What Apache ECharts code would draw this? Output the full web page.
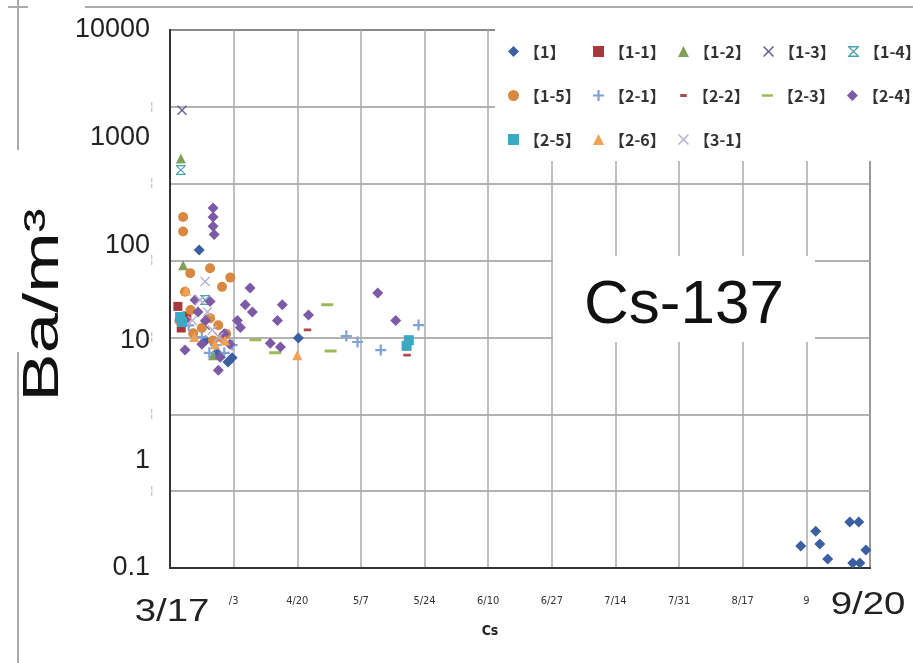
<!DOCTYPE html>
<html><head><meta charset="utf-8">
<script src="https://cdn.jsdelivr.net/npm/echarts@6/dist/echarts.min.js"></script>
<style>html,body{margin:0;padding:0;background:#fff}#c{width:913px;height:663px}</style>
</head><body><div id="c"></div>
<script>
// x = days after 3/17, y = Bq/m3
const xTickLabels = ['', '/3', '4/20', '5/7', '5/24', '6/10', '6/27', '7/14', '7/31', '8/17', '9', ''];
const yTickLabels = ['0.1', '1', '10', '100', '1000', '10000'];
const seriesNames = ['【1】','【1-1】','【1-2】','【1-3】','【1-4】','【1-5】','【2-1】','【2-2】','【2-3】','【2-4】','【2-5】','【2-6】','【3-1】'];

const s1  = [[7.8,90],[16.6,9.0],[15.5,8.2],[34.3,13.7],[12.5,10],[9.5,13],[168.5,0.16],[172.5,0.22],[173.6,0.167],[175.7,0.121],[181.6,0.268],[184.0,0.268],[182.4,0.111],[184.3,0.111],[185.9,0.147]];
const s11 = [[2.1,27],[4.5,22],[3.0,17]];
const s12 = [[2.9,640],[3.5,65],[11.5,9.5]];
const s13 = [[3.2,1800],[9.4,18]];
const s14 = [[2.9,500],[9.4,31]];
const s15 = [[3.5,183],[3.5,134],[5.4,55],[10.7,61],[16.1,50],[13.9,41],[6.2,15.2],[10.7,21],[12.9,18],[13.9,13.7],[4.0,37],[2.5,20],[5.5,25],[8.5,17],[11.5,13],[15.0,15]];
const s21 = [[47.1,14.3],[50.1,12.6],[56.3,10.6],[66.4,18.1],[12.1,11.8],[16.6,11.8],[8.5,14],[5.0,18],[10.5,10],[14.5,10]];
const s22 = [[63.0,9.5],[36.4,16.3]];
const s23 = [[42.0,28],[42.9,10.4],[22.8,13.2],[28.1,10]];
const s24 = [[11.5,222],[11.5,183],[11.5,150],[11.8,126],[21.4,40],[20.1,28],[22.0,24],[6.7,31],[10.7,30],[4.0,10.6],[13.4,9.1],[12.9,6.9],[30.0,28],[28.7,20],[18.0,20],[18.8,17.2],[37.0,22.5],[26.8,12.3],[29.5,11.3],[55.5,36],[60.3,20],[7.5,24],[9.5,20],[14.5,15],[16.0,12],[8.5,12],[3.8,20]];
const s25 = [[2.7,21.5],[3.2,19.3],[63.8,13.1],[63.2,11.6]];
const s26 = [[34.0,9.5],[4.3,38],[14.7,13],[6.5,14],[12.0,12]];
const s31 = [[9.4,46],[8.0,31],[11.3,16.3],[6.0,20],[10.0,24],[13.0,14]];

const seriesData = [s1,s11,s12,s13,s14,s15,s21,s22,s23,s24,s25,s26,s31];
const colors = ['#3b5fa0','#a8383b','#82a05a','#6a5f8e','#4a9fae','#d9893f','#7fa2d4','#b04a4a','#9bbb59','#7d5aa6','#3ba9c4','#f2a053','#b8b0d2'];

const PLUS = 'path://M4,0H6V4H10V6H6V10H4V6H0V4H4Z';
const CROSS = 'path://M1,0L5,4L9,0L10,1L6,5L10,9L9,10L5,6L1,10L0,9L4,5L0,1Z';
const STAR = 'path://M0,0H10V1.3H0ZM0,8.7H10V10H0ZM1.5,1L5,4.2L8.5,1L9.3,1.8L5.8,5L9.3,8.2L8.5,9L5,5.8L1.5,9L0.7,8.2L4.2,5L0.7,1.8Z';
const SDASH = 'path://M0,0L0.01,0M2,3.6H8V6.4H2ZM0,10L0.01,10';
const LDASH = 'path://M0,0L0.01,0M0,3.8H10V6.2H0ZM0,10L0.01,10';
const symbols = ['diamond','rect','triangle',CROSS,STAR,'circle',PLUS,SDASH,LDASH,'diamond','rect','triangle',CROSS];
const sizes = [11,9,10,10,10,10,11,10,12,11,10,10,10];

const chart = echarts.init(document.getElementById('c'));
const series = seriesNames.map((n,i)=>({
  name:n, type:'scatter', data:seriesData[i], xAxisIndex:0, yAxisIndex:0,
  symbol:symbols[i], symbolSize:sizes[i], itemStyle:{color:colors[i], opacity:1}, z:3
}));

const condensed = "'DejaVu Sans Condensed', 'Liberation Sans', sans-serif";

chart.setOption({
  backgroundColor:'#fff',
  animation:false,
  grid:{left:170, top:30, right:43, bottom:95, show:true, borderColor:'#333', borderWidth:1.5, backgroundColor:'transparent'},
  xAxis:{type:'value', min:0, max:187, interval:17,
    name:'Cs', nameLocation:'middle', nameGap:56,
    nameTextStyle:{fontSize:14, fontWeight:'bold', color:'#222', fontFamily:condensed, padding:[0,60,0,0]},
    axisLine:{lineStyle:{color:'#333', width:2}}, axisTick:{show:false},
    axisLabel:{margin:28, fontSize:11, color:'#333', fontFamily:condensed, formatter:(v)=>xTickLabels[Math.round(v/17)]||''},
    splitLine:{show:true, lineStyle:{color:'#aaa', width:1.5}}},
  yAxis:[
    {type:'log', logBase:10, min:0.1, max:10000, interval:1,
      axisLine:{show:true, lineStyle:{color:'#333', width:2}}, axisTick:{show:false},
      splitLine:{show:false},
      axisLabel:{margin:20, fontSize:27, color:'#222', fontFamily:'Liberation Sans',
        formatter:(v,i)=> i===2 ? '{up|'+yTickLabels[i]+'}' : yTickLabels[i],
        rich:{up:{fontSize:27, color:'#222', fontFamily:'Liberation Sans', padding:[0,0,24,0]}}}},
    {type:'value', min:0, max:7, interval:1, position:'left',
      axisLine:{show:false}, axisTick:{show:false},
      axisLabel:{margin:17, fontSize:10, color:'#aaa', formatter:(v)=>(v>0&&v<7)?'¦':''},
      splitLine:{show:true, lineStyle:{color:'#999', width:1.5}}}
  ],
  legend:{left:503, top:28, width:425, orient:'horizontal', itemWidth:11, itemHeight:11, itemGap:7, z:10,
    data:seriesNames,
    textStyle:{fontFamily:'Noto Sans CJK JP', fontSize:16, fontWeight:'bold', color:'#333', width:62, lineHeight:37}},
  graphic:[
    {type:'rect', z:5, shape:{x:495, y:20, width:418, height:141}, style:{fill:'#fff'}},
    {type:'rect', z:5, shape:{x:553, y:256, width:262, height:86}, style:{fill:'#fff'}},
    {type:'text', z:6, x:684, y:306, style:{text:'Cs-137', font:'62px "Liberation Sans"', fill:'#111', textAlign:'center', textVerticalAlign:'middle'}},
    {type:'text', z:6, x:172, y:612, scaleX:1.2, style:{text:'3/17', font:'32px "Liberation Sans"', fill:'#222', textAlign:'center', textVerticalAlign:'middle'}},
    {type:'text', z:6, x:868, y:605, scaleX:1.2, style:{text:'9/20', font:'32px "Liberation Sans"', fill:'#222', textAlign:'center', textVerticalAlign:'middle'}},
    {type:'text', z:6, x:44, y:305, rotation:Math.PI/2, scaleX:1.45, style:{text:'Ba/m³', font:'50px "Liberation Sans"', fill:'#111', textAlign:'center', textVerticalAlign:'middle'}},
    {type:'line', z:4, shape:{x1:85, y1:7, x2:913, y2:7}, style:{stroke:'#aaa', lineWidth:2}},
    {type:'line', z:4, shape:{x1:8, y1:7, x2:28, y2:7}, style:{stroke:'#aaa', lineWidth:2}},
    {type:'line', z:4, shape:{x1:18, y1:0, x2:18, y2:150}, style:{stroke:'#aaa', lineWidth:2}},
    {type:'line', z:4, shape:{x1:18, y1:352, x2:18, y2:663}, style:{stroke:'#aaa', lineWidth:2}}
  ],
  series:series
});
</script></body></html>
